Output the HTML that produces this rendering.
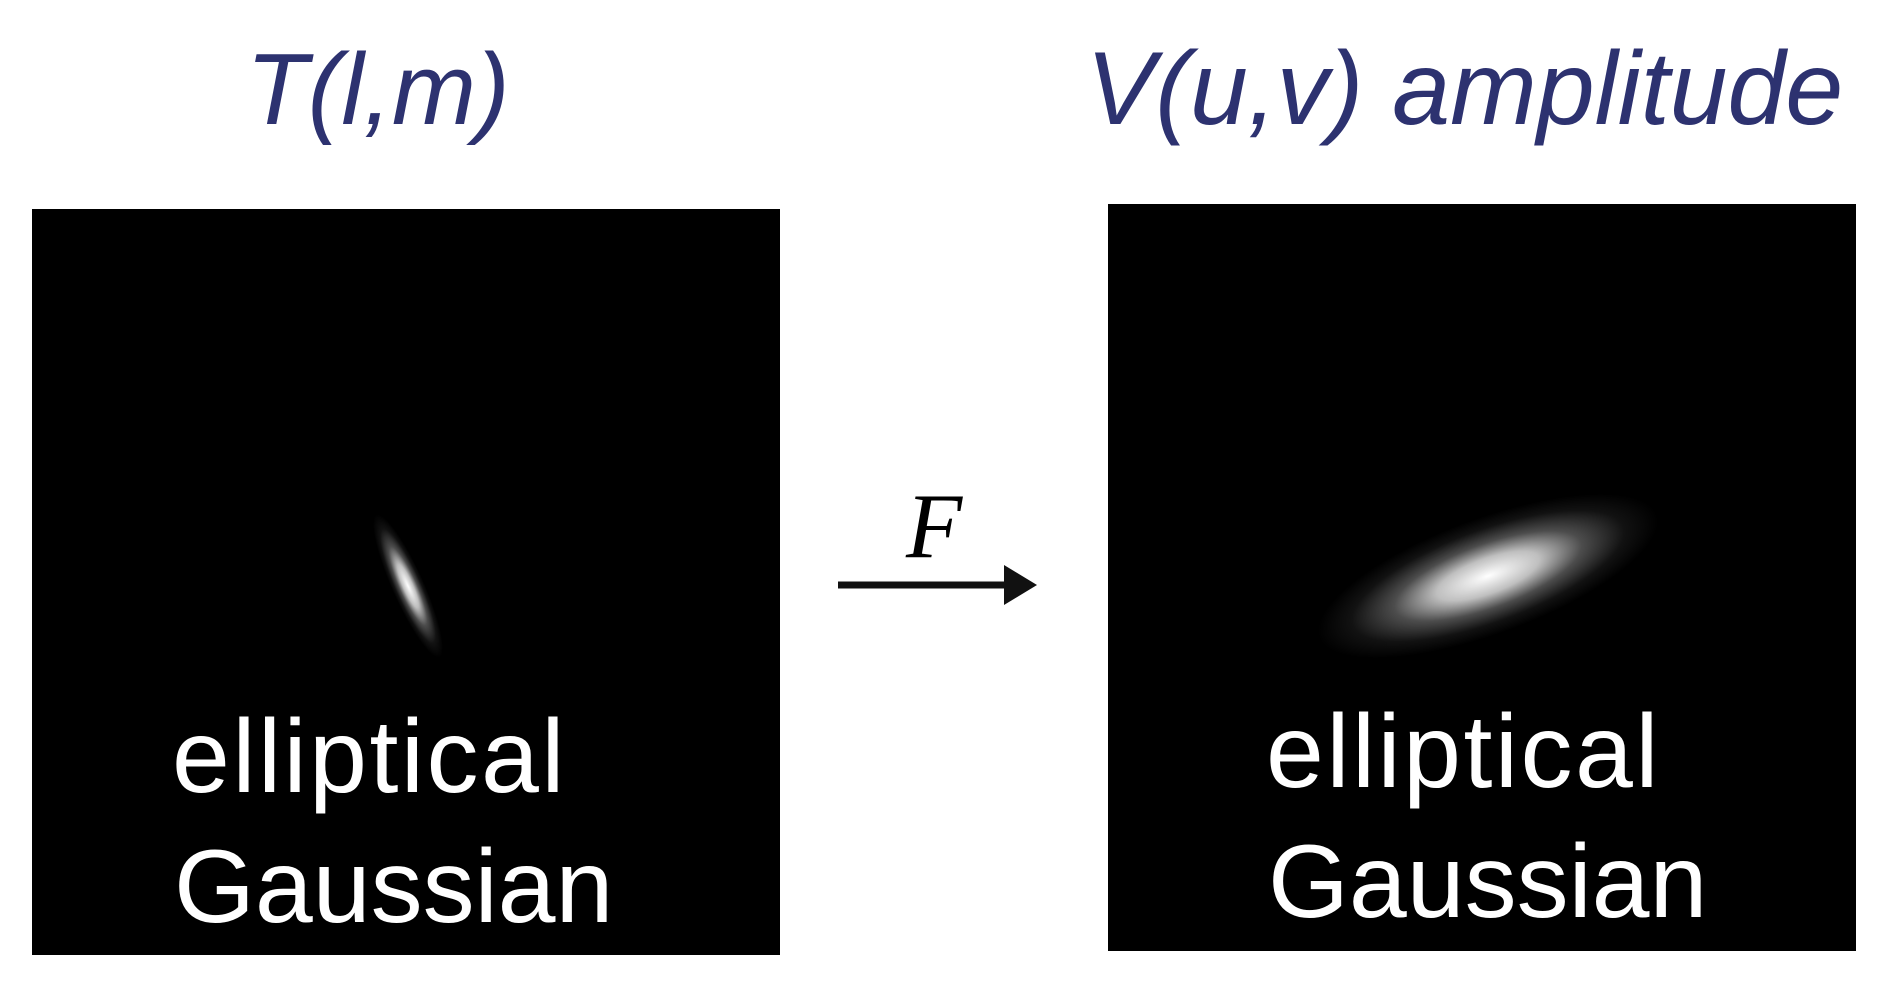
<!DOCTYPE html>
<html><head><meta charset="utf-8"><style>
html,body{margin:0;padding:0;background:#fff;width:1882px;height:982px;overflow:hidden}
</style></head><body>
<svg width="1882" height="982" viewBox="0 0 1882 982">
<defs>
<radialGradient id="g">
<stop offset="0" stop-color="#fff" stop-opacity="1"/>
<stop offset="0.3" stop-color="#fff" stop-opacity="0.75"/>
<stop offset="0.55" stop-color="#fff" stop-opacity="0.3"/>
<stop offset="0.8" stop-color="#fff" stop-opacity="0.07"/>
<stop offset="1" stop-color="#fff" stop-opacity="0"/>
</radialGradient>
</defs>
<text x="246" y="124" font-family="Liberation Sans, sans-serif" font-style="italic" font-size="101" fill="#2d3270">T(l,m)</text>
<text x="1086" y="124" font-family="Liberation Sans, sans-serif" font-style="italic" font-size="104" fill="#2d3270">V(u,v) amplitude</text>

<rect x="32" y="209" width="748" height="746" fill="#000"/>
<rect x="1108" y="204" width="748" height="747" fill="#000"/>
<g id="blobs"></g>

<text x="172" y="792" font-family="Liberation Sans, sans-serif" font-size="104" letter-spacing="2.5" fill="#fff">elliptical</text>
<text x="174" y="922" font-family="Liberation Sans, sans-serif" font-size="104" fill="#fff">Gaussian</text>
<text x="1266" y="787" font-family="Liberation Sans, sans-serif" font-size="104" letter-spacing="2.5" fill="#fff">elliptical</text>
<text x="1268" y="917" font-family="Liberation Sans, sans-serif" font-size="104" fill="#fff">Gaussian</text>

<text x="906" y="557" font-family="Liberation Serif, serif" font-style="italic" font-size="92" fill="#000">F</text>
<line x1="838" y1="585" x2="1010" y2="585" stroke="#111" stroke-width="7"/>
<polygon points="1004,565 1037,585 1004,605" fill="#111"/>
</svg>
<script>
// blob parameters: center x, center y, semi-major, semi-minor, angle
const blobNames=['left-gaussian-blob','right-gaussian-blob'];
const cx=[408,1488], cy=[586,576], rx=[78,180], ry=[16,58], ang=[66,-20];
const g=document.getElementById('blobs');
for(let i=0;i<cx.length;i++){
  const e=document.createElementNS('http://www.w3.org/2000/svg','ellipse');
  e.setAttribute('cx',cx[i]);e.setAttribute('cy',cy[i]);
  e.setAttribute('rx',rx[i]);e.setAttribute('ry',ry[i]);
  e.setAttribute('fill','url(#g)');
  e.setAttribute('transform','rotate('+ang[i]+' '+cx[i]+' '+cy[i]+')');
  
  
  g.appendChild(e);
}
</script>
</body></html>
